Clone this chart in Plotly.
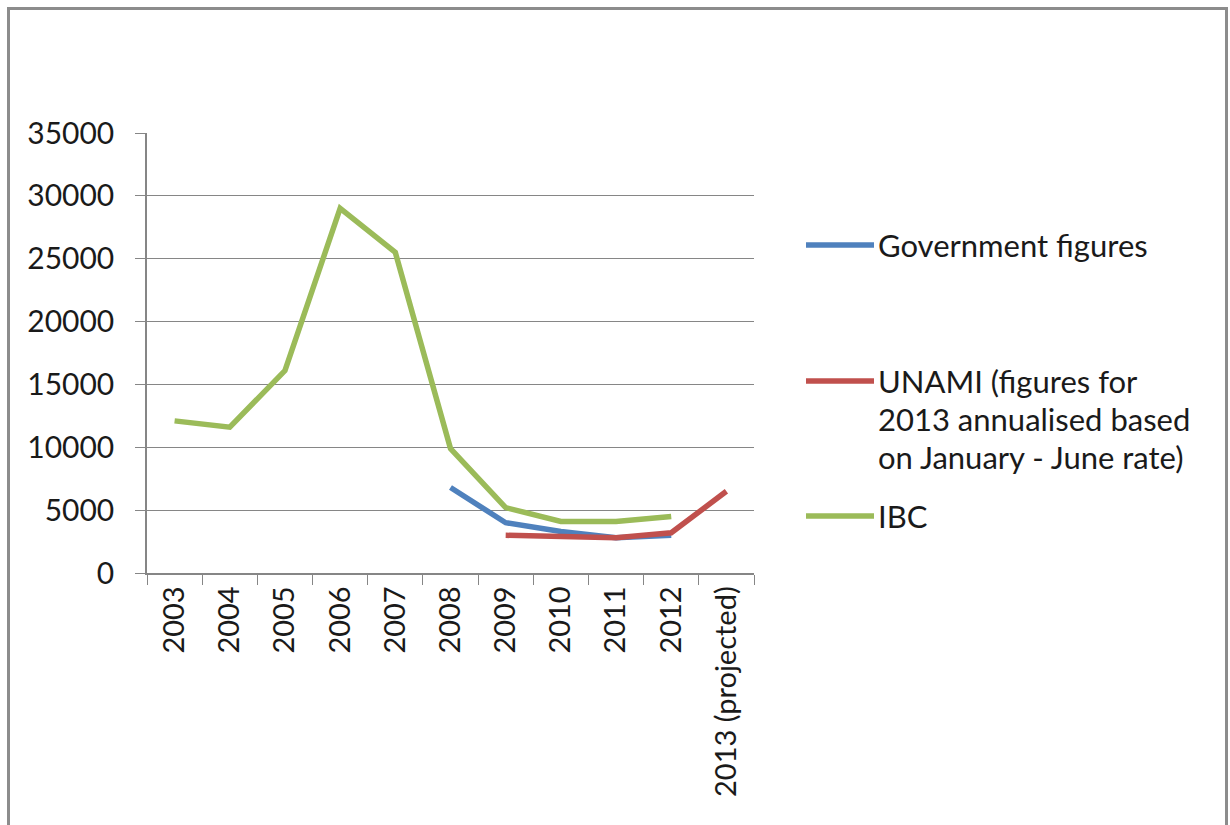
import plotly.graph_objects as go

# Categories along the x axis
years = ["2003", "2004", "2005", "2006", "2007", "2008", "2009",
         "2010", "2011", "2012", "2013 (projected)"]

# Annual civilian death counts by source
government = [None, None, None, None, None, 6800, 4000, 3300, 2800, 3000, None]
unami = [None, None, None, None, None, None, 3000, 2950, 2800, 3200, 6500]
ibc = [12100, 11600, 16100, 29000, 25500, 9900, 5200, 4100, 4100, 4500, None]

series_names = [
    ["Government figures"],
    ["UNAMI (figures for", "2013 annualised based", "on January - June rate)"],
    ["IBC"],
]
series_colors = ["#4F81BD", "#C0504D", "#9BBB59"]
series_values = [government, unami, ibc]

FONT = "Lato, 'Noto Sans', Arial, sans-serif"
TEXT_COLOR = "#1a1a1a"
AXIS_COLOR = "#868686"
TICK_SIZE = 30
XTICK_SIZE = 29
LEGEND_SIZE = 31
LEGEND_LINE_GAP = 38

# Plot area geometry in pixels
L, R, T, B = 147, 476, 133, 252
W = 1230 - L - R
H = 825 - T - B


def px_to_paper_x(px):
    return (px - L) / W


def px_to_paper_y(py):
    return (825 - B - py) / H


fig = go.Figure()
for name, color, vals in zip(series_names, series_colors, series_values):
    fig.add_trace(go.Scatter(
        x=years, y=vals, mode="lines", name=" ".join(name),
        line=dict(color=color, width=5.5),
        connectgaps=False, showlegend=False,
    ))

# Legend drawn as swatches + labels to the right of the plot
legend_y_px = [245, 381, 516]
shapes = []
annotations = []
for name, color, ypx in zip(series_names, series_colors, legend_y_px):
    shapes.append(dict(
        type="line", xref="paper", yref="paper",
        x0=px_to_paper_x(806), x1=px_to_paper_x(874),
        y0=px_to_paper_y(ypx), y1=px_to_paper_y(ypx),
        line=dict(color=color, width=5.5),
    ))
    for i, line_text in enumerate(name):
        annotations.append(dict(
            xref="paper", yref="paper",
            x=px_to_paper_x(876), y=px_to_paper_y(ypx + i * LEGEND_LINE_GAP),
            xanchor="left", yanchor="middle", align="left",
            text=line_text, showarrow=False,
            font=dict(family=FONT, size=LEGEND_SIZE, color=TEXT_COLOR),
        ))

# Outer frame of the chart
shapes.append(dict(
    type="rect", xref="paper", yref="paper", layer="above",
    x0=px_to_paper_x(8.5), x1=px_to_paper_x(1226.5),
    y0=px_to_paper_y(840), y1=px_to_paper_y(8.5),
    line=dict(color="#8c8c8c", width=3), fillcolor="rgba(0,0,0,0)",
))

fig.update_layout(
    width=1230, height=825,
    margin=dict(l=L, r=R, t=T, b=B, autoexpand=False),
    paper_bgcolor="white", plot_bgcolor="white",
    font=dict(family=FONT, size=TICK_SIZE, color=TEXT_COLOR),
    shapes=shapes, annotations=annotations,
    showlegend=False,
)
fig.update_xaxes(
    type="category", categoryorder="array", categoryarray=years,
    range=[-0.5, len(years) - 0.5],
    tickson="boundaries", ticks="outside", ticklen=10, tickcolor=AXIS_COLOR,
    tickangle=-90, showgrid=False, zeroline=False,
    showline=True, linecolor=AXIS_COLOR, linewidth=1.5,
    tickfont=dict(family=FONT, size=XTICK_SIZE, color=TEXT_COLOR),
)
fig.update_yaxes(
    range=[0, 35000], dtick=5000, tick0=0, tickformat="d",
    ticks="outside", ticklen=10, tickcolor=AXIS_COLOR,
    showgrid=True, gridcolor=AXIS_COLOR, gridwidth=1.2,
    zeroline=False, showline=True, linecolor=AXIS_COLOR, linewidth=1.5,
    ticklabelstandoff=15,
    tickfont=dict(family=FONT, size=TICK_SIZE, color=TEXT_COLOR),
)

fig.write_html("out.html")
